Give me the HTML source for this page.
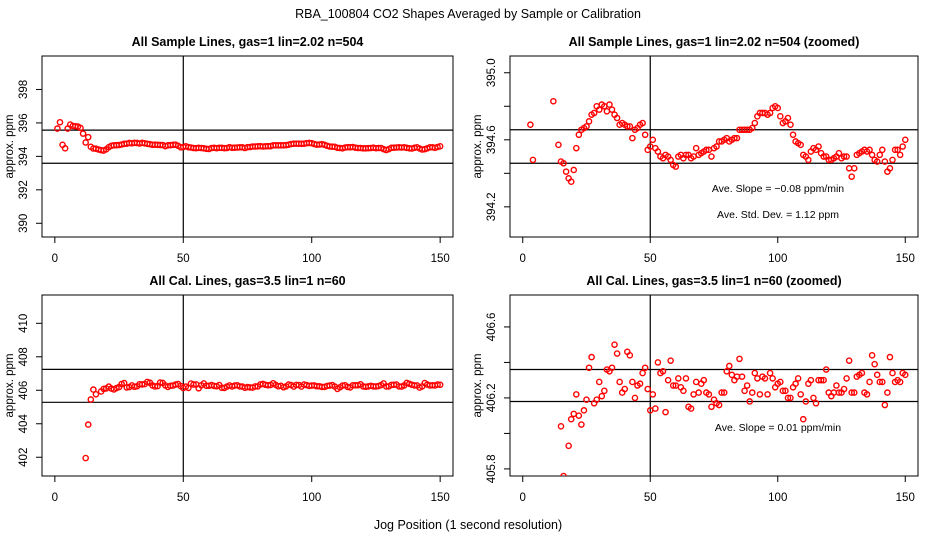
<!DOCTYPE html>
<html><head><meta charset="utf-8"><style>
html,body{margin:0;padding:0;background:#fff;width:936px;height:540px;overflow:hidden}
svg{display:block;font-family:"Liberation Sans",Arial,sans-serif}
</style></head><body>
<svg id="chart" width="936" height="540" viewBox="0 0 936 540">
<text x="468" y="18" text-anchor="middle" font-size="12.5">RBA_100804  CO2 Shapes Averaged by Sample or Calibration</text>
<text x="468" y="529" text-anchor="middle" font-size="12.5">Jog Position (1 second resolution)</text>
</svg>
<script>
// Sample-line averages, jog 1..150
const sampleValues = [395.66,396.04,394.69,394.48,395.66,395.9,395.82,395.8,395.78,395.7,395.36,394.83,395.15,394.57,394.47,394.46,394.41,394.37,394.35,394.42,394.55,394.63,394.66,394.67,394.68,394.71,394.75,394.76,394.80,394.78,394.81,394.80,394.77,394.81,394.78,394.75,394.73,394.69,394.70,394.69,394.68,394.68,394.61,394.66,394.67,394.69,394.70,394.63,
394.54,394.56,394.60,394.55,394.53,394.50,394.49,394.51,394.50,394.48,394.45,394.44,394.50,394.51,394.49,394.51,394.51,394.49,394.50,394.55,394.51,394.52,394.53,394.54,394.54,394.50,394.55,394.56,394.59,
394.59,394.60,394.61,394.59,394.60,394.61,394.61,394.66,394.66,394.66,394.66,394.66,394.67,394.70,394.74,394.76,394.76,394.76,394.75,394.76,394.79,394.80,394.79,394.74,394.70,394.71,394.73,394.69,394.63,394.59,394.58,394.57,394.51,394.50,394.48,394.53,394.55,394.54,394.56,394.52,394.50,394.50,394.48,394.48,394.49,394.50,394.52,394.49,394.50,394.50,394.43,394.38,394.43,394.51,394.52,394.53,394.54,394.53,394.54,394.51,394.48,394.47,394.51,394.54,394.47,394.41,394.43,394.48,394.54,394.54,394.51,394.56,394.60];
// Calibration-line averages, starting at jog 12
const calStartJog = 12;
const calValues = [401.95,403.95,405.45,406.04,405.76,null,405.93,406.08,406.11,406.22,406.10,406.05,406.13,406.19,406.37,406.43,406.17,406.19,406.29,406.21,406.24,406.36,406.35,406.37,406.50,406.45,406.29,406.23,406.25,406.46,406.44,406.29,406.20,406.27,406.28,406.34,406.37,406.25,406.13,406.22,406.14,406.40,406.34,406.35,406.12,406.30,406.41,406.27,406.27,406.31,406.26,406.24,406.31,406.15,406.14,406.22,406.29,406.23,406.28,406.30,406.23,406.22,406.15,406.19,406.17,
406.16,406.23,406.23,406.35,406.38,406.33,406.30,406.32,406.42,406.32,406.24,406.27,406.18,406.23,406.34,406.31,406.22,406.32,406.31,406.22,406.34,406.31,406.26,406.28,406.29,406.24,406.24,406.20,406.20,406.26,406.28,406.31,406.22,406.08,406.18,406.28,406.30,406.20,406.17,406.30,406.30,406.30,406.36,406.23,406.21,406.23,406.27,406.23,406.23,406.25,406.31,406.41,406.23,406.23,406.32,406.33,406.34,406.23,406.22,406.29,406.44,406.39,406.33,406.29,406.29,406.16,406.23,406.43,406.34,406.29,406.30,406.29,406.34,406.33];
const xTicks = [0,50,100,150];
const ticksTopLeft = [390,392,394,396,398];
const ticksTopRight = [394.2,394.4,394.6,394.8,395.0];
const labelsTopRight = [394.2,394.6,395.0];
const ticksBotLeft = [402,404,406,408,410];
const ticksBotRight = [405.8,406.0,406.2,406.4,406.6];
const labelsBotRight = [405.8,406.2,406.6];
const refTopLeft = [395.57,393.59];
const refTopRight = [394.66,394.46];
const refBotLeft = [407.25,405.28];
const refBotRight = [406.36,406.18];
const refJog = 50;

const NS='http://www.w3.org/2000/svg';
const svg=document.getElementById('chart');
function mk(tag,attrs,parent){const e=document.createElementNS(NS,tag);for(const k in attrs)e.setAttribute(k,attrs[k]);(parent||svg).appendChild(e);return e;}

function panel(cfg){
  const g=mk('g',{});
  
  
  const x=v=>cfg.x0+(v-cfg.xmin)/(cfg.xmax-cfg.xmin)*(cfg.x1-cfg.x0);
  const y=v=>cfg.y1-(v-cfg.ymin)/(cfg.ymax-cfg.ymin)*(cfg.y1-cfg.y0);
  const clipId=cfg.name+'-clip';
  const cp=mk('clipPath',{id:clipId},g);
  mk('rect',{x:cfg.x0,y:cfg.y0,width:cfg.x1-cfg.x0,height:cfg.y1-cfg.y0},cp);
  const t=mk('text',{x:(cfg.x0+cfg.x1)/2,y:cfg.y0-10,'text-anchor':'middle','font-size':12.5,'font-weight':'bold'},g);
  t.textContent=cfg.title;
  
  
  const box=mk('rect',{x:cfg.x0,y:cfg.y0,width:cfg.x1-cfg.x0,height:cfg.y1-cfg.y0,fill:'none',stroke:'#000','stroke-width':1},g);
  
  
  xTicks.forEach(v=>{
    mk('line',{x1:x(v),x2:x(v),y1:cfg.y1,y2:cfg.y1+6,stroke:'#000'},g);
    const l=mk('text',{x:x(v),y:cfg.y1+25,'text-anchor':'middle','font-size':11.5},g);
    l.textContent=v;
    
    
  });
  mk('line',{x1:x(xTicks[0]),x2:x(xTicks[xTicks.length-1]),y1:cfg.y1,y2:cfg.y1,stroke:'#000'},g);
  cfg.yticks.forEach(v=>{
    mk('line',{x1:cfg.x0-6,x2:cfg.x0,y1:y(v),y2:y(v),stroke:'#000'},g);
  });
  cfg.ylabels.forEach(v=>{
    const tx=cfg.x0-15, ty=y(v);
    const l=mk('text',{x:tx,y:ty,'text-anchor':'middle','font-size':11.5,transform:`rotate(-90 ${tx} ${ty})`},g);
    l.textContent=cfg.fmt(v);
    
    
  });
  const ax=cfg.x0-29, ay=(cfg.y0+cfg.y1)/2;
  const yl=mk('text',{x:ax,y:ay,'text-anchor':'middle','font-size':11.5,transform:`rotate(-90 ${ax} ${ay})`},g);
  yl.textContent='approx. ppm';
  
  
  const inner=mk('g',{'clip-path':`url(#${clipId})`},g);
  cfg.refs.forEach(v=>{
    const l=mk('line',{x1:cfg.x0,x2:cfg.x1,y1:y(v),y2:y(v),stroke:'#000','stroke-width':1.2},inner);
    
    
  });
  const vl=mk('line',{x1:x(refJog),x2:x(refJog),y1:cfg.y0,y2:cfg.y1,stroke:'#000','stroke-width':1.2},inner);
  
  
  const pad=(cfg.ymax-cfg.ymin)*0.02;
  cfg.data.forEach((v,i)=>{
    if(v==null)return;
    if(v<cfg.ymin-pad||v>cfg.ymax+pad)return;
    const c=mk('circle',{cx:x(cfg.start+i),cy:y(v),r:2.6,fill:'none',stroke:'#f00','stroke-width':1.4},inner);
    
    
  });
  (cfg.notes||[]).forEach(n=>{
    const a=mk('text',{x:n[0],y:n[1],'text-anchor':'middle','font-size':10.5},g);
    a.textContent=n[2];
    
    
  });
}
const one=v=>v.toFixed(1);
const zero=v=>String(v);
panel({name:'panel-sample',title:'All Sample Lines, gas=1 lin=2.02 n=504',x0:42,x1:453,y0:56,y1:237,xmin:-5,xmax:155,ymin:389.18,ymax:400.0,yticks:ticksTopLeft,ylabels:ticksTopLeft,fmt:zero,refs:refTopLeft,data:sampleValues,start:1});
panel({name:'panel-sample-zoomed',title:'All Sample Lines, gas=1 lin=2.02 n=504 (zoomed)',x0:510,x1:918,y0:56,y1:237,xmin:-5,xmax:155,ymin:394.02,ymax:395.10,yticks:ticksTopRight,ylabels:labelsTopRight,fmt:one,refs:refTopRight,data:sampleValues,start:1,
  notes:[[778,192,'Ave. Slope =  \u22120.08  ppm/min'],[778,218,'Ave. Std. Dev. =  1.12  ppm']]});
panel({name:'panel-cal',title:'All Cal. Lines, gas=3.5 lin=1 n=60',x0:42,x1:453,y0:295,y1:476,xmin:-5,xmax:155,ymin:400.88,ymax:411.69,yticks:ticksBotLeft,ylabels:ticksBotLeft,fmt:zero,refs:refBotLeft,data:calValues,start:calStartJog});
panel({name:'panel-cal-zoomed',title:'All Cal. Lines, gas=3.5 lin=1 n=60 (zoomed)',x0:510,x1:918,y0:295,y1:476,xmin:-5,xmax:155,ymin:405.76,ymax:406.78,yticks:ticksBotRight,ylabels:labelsBotRight,fmt:one,refs:refBotRight,data:calValues,start:calStartJog,
  notes:[[778,431,'Ave. Slope =  0.01  ppm/min']]});
</script>
</body></html>
